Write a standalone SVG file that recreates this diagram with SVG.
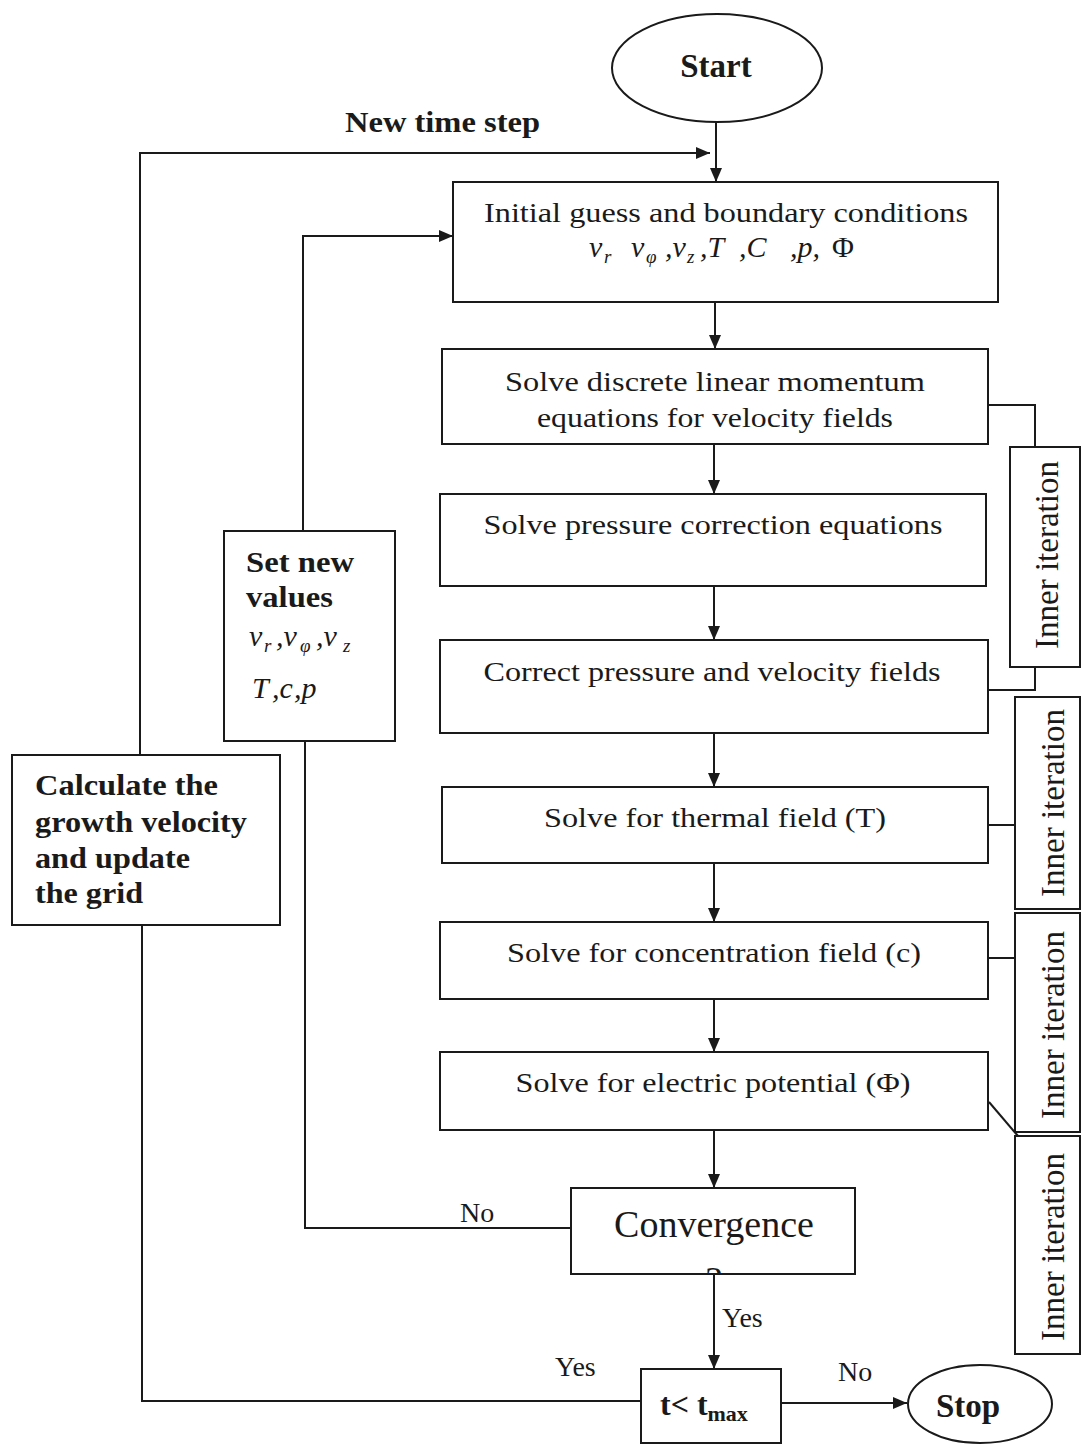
<svg xmlns="http://www.w3.org/2000/svg" width="1081" height="1448" viewBox="0 0 1081 1448">
<style>
text{font-family:"Liberation Serif","Times New Roman",serif;fill:#1a1a1a}
.box{fill:#fff;stroke:#1a1a1a;stroke-width:2}
.ln{fill:none;stroke:#1a1a1a;stroke-width:2}
.t{font-size:28px;text-anchor:middle}
.b{font-weight:bold;font-size:30px}
.m{font-style:italic;font-size:30px}
.s{font-size:19px}
.ii{font-size:33px;text-anchor:middle}
</style>
<defs>
<marker id="ah" viewBox="0 0 14 12" refX="14" refY="6" markerWidth="14" markerHeight="12" markerUnits="userSpaceOnUse" orient="auto">
<path d="M0,0 L14,6 L0,12 z" fill="#1a1a1a"/>
</marker>
<clipPath id="cvclip"><rect x="571" y="1188" width="284" height="86"/></clipPath>
</defs>
<rect width="1081" height="1448" fill="#fff"/>

<g id="connectors">
<line class="ln" x1="716" y1="122" x2="716" y2="182" marker-end="url(#ah)"/>
<polyline class="ln" points="140,755 140,153 710,153" marker-end="url(#ah)"/>
<polyline class="ln" points="303,531 303,236 453,236" marker-end="url(#ah)"/>
<line class="ln" x1="715" y1="302" x2="715" y2="349" marker-end="url(#ah)"/>
<line class="ln" x1="714" y1="444" x2="714" y2="494" marker-end="url(#ah)"/>
<line class="ln" x1="714" y1="586" x2="714" y2="640" marker-end="url(#ah)"/>
<line class="ln" x1="714" y1="733" x2="714" y2="787" marker-end="url(#ah)"/>
<line class="ln" x1="714" y1="863" x2="714" y2="922" marker-end="url(#ah)"/>
<line class="ln" x1="714" y1="999" x2="714" y2="1052" marker-end="url(#ah)"/>
<line class="ln" x1="714" y1="1130" x2="714" y2="1188" marker-end="url(#ah)"/>
<line class="ln" x1="714" y1="1275" x2="714" y2="1369" marker-end="url(#ah)"/>
<polyline class="ln" points="571,1228 305,1228 305,741"/>
<polyline class="ln" points="641,1401 142,1401 142,925"/>
<line class="ln" x1="781" y1="1403" x2="907" y2="1403" marker-end="url(#ah)"/>
<polyline class="ln" points="988,405 1035,405 1035,447"/>
<polyline class="ln" points="1035,667 1035,690 988,690"/>
<line class="ln" x1="988" y1="825" x2="1015" y2="825"/>
<line class="ln" x1="988" y1="958" x2="1015" y2="958"/>
<line class="ln" x1="989" y1="1102" x2="1018" y2="1136"/>
<text class="b" x="345" y="132" textLength="195" lengthAdjust="spacingAndGlyphs">New time step</text>
<text x="460" y="1222" style="font-size:28px">No</text>
<text x="722" y="1327" style="font-size:28px">Yes</text>
<text x="555" y="1376" style="font-size:28px">Yes</text>
<text x="838" y="1381" style="font-size:28px">No</text>
</g>

<g id="start">
<ellipse class="box" cx="717" cy="68" rx="105" ry="54"/>
<text class="b" x="716" y="77" text-anchor="middle" style="font-size:33px">Start</text>
</g>

<g id="init">
<rect class="box" x="453" y="182" width="545" height="120"/>
<text class="t" x="726" y="222" textLength="484" lengthAdjust="spacingAndGlyphs">Initial guess and boundary conditions</text>
<text class="m" y="257"><tspan x="589">v</tspan><tspan class="s" x="604" dy="6">r</tspan><tspan x="631" dy="-6">v</tspan><tspan class="s" x="646" dy="6">φ</tspan><tspan x="665" dy="-6">,v</tspan><tspan class="s" x="687" dy="6">z</tspan><tspan x="700" dy="-6">,T</tspan><tspan x="739">,C</tspan><tspan x="790">,p,</tspan><tspan x="832" font-style="normal">Φ</tspan></text>
</g>

<g id="momentum">
<rect class="box" x="442" y="349" width="546" height="95"/>
<text class="t" x="715" y="391" textLength="420" lengthAdjust="spacingAndGlyphs">Solve discrete linear momentum</text>
<text class="t" x="715" y="427" textLength="356" lengthAdjust="spacingAndGlyphs">equations for velocity fields</text>
</g>

<g id="pressure">
<rect class="box" x="440" y="494" width="546" height="92"/>
<text class="t" x="713" y="534" textLength="459" lengthAdjust="spacingAndGlyphs">Solve pressure correction equations</text>
</g>

<g id="correct">
<rect class="box" x="440" y="640" width="548" height="93"/>
<text class="t" x="712" y="681" textLength="457" lengthAdjust="spacingAndGlyphs">Correct pressure and velocity fields</text>
</g>

<g id="thermal">
<rect class="box" x="442" y="787" width="546" height="76"/>
<text class="t" x="715" y="827" textLength="342" lengthAdjust="spacingAndGlyphs">Solve for thermal field (T)</text>
</g>

<g id="concentration">
<rect class="box" x="440" y="922" width="548" height="77"/>
<text class="t" x="714" y="962" textLength="414" lengthAdjust="spacingAndGlyphs">Solve for concentration field (c)</text>
</g>

<g id="electric">
<rect class="box" x="440" y="1052" width="548" height="78"/>
<text class="t" x="713" y="1092" textLength="395" lengthAdjust="spacingAndGlyphs">Solve for electric potential (Φ)</text>
</g>

<g id="convergence">
<rect class="box" x="571" y="1188" width="284" height="86"/>
<text x="714" y="1237" text-anchor="middle" style="font-size:38px">Convergence</text>
<text x="714" y="1293" text-anchor="middle" clip-path="url(#cvclip)" style="font-size:38px">?</text>
</g>

<g id="tmax">
<rect class="box" x="641" y="1369" width="140" height="74"/>
<text class="b" x="660" y="1415" style="font-size:32px">t&lt; t<tspan style="font-size:22px" dy="6">max</tspan></text>
</g>

<g id="stop">
<ellipse class="box" cx="980" cy="1404" rx="72" ry="39"/>
<text class="b" x="968" y="1417" text-anchor="middle" style="font-size:33px">Stop</text>
</g>

<g id="setnew">
<rect class="box" x="224" y="531" width="171" height="210"/>
<text class="b" x="246" y="572" textLength="108" lengthAdjust="spacingAndGlyphs">Set new</text>
<text class="b" x="246" y="607" textLength="87" lengthAdjust="spacingAndGlyphs">values</text>
<text class="m" y="646"><tspan x="249">v</tspan><tspan class="s" x="264" dy="6">r</tspan><tspan x="276" dy="-6">,v</tspan><tspan class="s" x="300" dy="6">φ</tspan><tspan x="316" dy="-6">,v</tspan><tspan class="s" x="343" dy="6">z</tspan></text>
<text class="m" y="698"><tspan x="252">T</tspan><tspan x="272">,c</tspan><tspan x="294">,p</tspan></text>
</g>

<g id="calculate">
<rect class="box" x="12" y="755" width="268" height="170"/>
<text class="b" x="35" y="795" textLength="183" lengthAdjust="spacingAndGlyphs">Calculate the</text>
<text class="b" x="35" y="832" textLength="212" lengthAdjust="spacingAndGlyphs">growth velocity</text>
<text class="b" x="35" y="868" textLength="155" lengthAdjust="spacingAndGlyphs">and update</text>
<text class="b" x="35" y="903" textLength="108" lengthAdjust="spacingAndGlyphs">the grid</text>
</g>

<g id="inner1">
<rect class="box" x="1010" y="447" width="70" height="220"/>
<text class="ii" transform="translate(1058,555) rotate(-90)">Inner  iteration</text>
</g>
<g id="inner2">
<rect class="box" x="1015" y="697" width="65" height="212"/>
<text class="ii" transform="translate(1064,803) rotate(-90)">Inner iteration</text>
</g>
<g id="inner3">
<rect class="box" x="1015" y="913" width="65" height="219"/>
<text class="ii" transform="translate(1064,1025) rotate(-90)">Inner iteration</text>
</g>
<g id="inner4">
<rect class="box" x="1015" y="1136" width="65" height="218"/>
<text class="ii" transform="translate(1064,1247) rotate(-90)">Inner iteration</text>
</g>
</svg>
